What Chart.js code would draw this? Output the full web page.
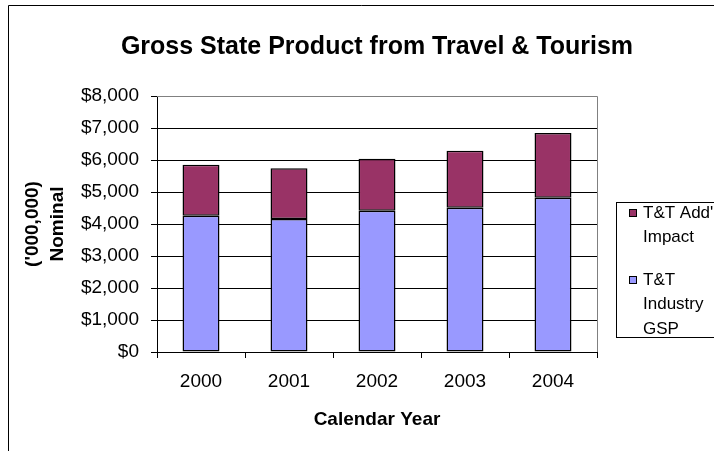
<!DOCTYPE html>
<html>
<head>
<meta charset="utf-8">
<title>Gross State Product from Travel &amp; Tourism</title>
<script src="https://cdn.jsdelivr.net/npm/chart.js@4/dist/chart.umd.min.js"></script>
<style>
  html, body { margin: 0; padding: 0; background: #ffffff; }
  #wrap { position: relative; width: 714px; height: 451px; }
</style>
</head>
<body>
<div id="wrap"><canvas id="chart"></canvas></div>
<script>
// Calendar years on the x axis
const years = ['2000', '2001', '2002', '2003', '2004'];

// Travel & Tourism industry GSP, $ millions (nominal)
const industryGsp = [4260, 4160, 4415, 4510, 4820];

// Additional (indirect/induced) impact, $ millions (nominal), stacked on top
const addlImpact = [1590, 1580, 1625, 1780, 2020];

// Series names, with the line breaks used in the legend
const industryLabel = ['T&T', 'Industry', 'GSP'];
const addlLabel = ["T&T Add'l", 'Impact'];

// Value axis range
const yMin = 0;
const yMax = 8000;
const yStep = 1000;

const chartTitle = 'Gross State Product from Travel & Tourism';
const xTitle = 'Calendar Year';
const yTitle = ["('000,000)", 'Nominal'];

const FONT = '"Liberation Sans", Arial, Helvetica, sans-serif';
const COLOR_GSP = '#9999FF';
const COLOR_ADDL = '#993366';

// Frame, title and legend painted around the plot
const decorations = {
  id: 'decorations',
  beforeDraw(chart) {
    const ctx = chart.ctx;
    ctx.save();
    ctx.fillStyle = '#ffffff';
    ctx.fillRect(0, 0, chart.width, chart.height);
    ctx.restore();
  },
  afterDraw(chart) {
    const ctx = chart.ctx;
    const a = chart.chartArea;
    ctx.save();

    // outer chart border (runs off the right and bottom edges)
    ctx.strokeStyle = '#000000';
    ctx.lineWidth = 1;
    ctx.beginPath();
    ctx.moveTo(8.5, chart.height + 2);
    ctx.lineTo(8.5, 5.5);
    ctx.lineTo(chart.width + 2, 5.5);
    ctx.stroke();

    // plot-area frame, top and right sides
    ctx.strokeStyle = '#808080';
    ctx.beginPath();
    ctx.moveTo(a.left, Math.round(a.top) + 0.5);
    ctx.lineTo(Math.round(a.right) + 0.5, Math.round(a.top) + 0.5);
    ctx.lineTo(Math.round(a.right) + 0.5, a.bottom);
    ctx.stroke();

    // title, centred over the plot area
    ctx.fillStyle = '#000000';
    ctx.font = 'bold 25px ' + FONT;
    ctx.textAlign = 'center';
    ctx.textBaseline = 'middle';
    ctx.fillText(chartTitle, (a.left + a.right) / 2, 47);

    // legend box
    const lx = 616.5, ly = 202.5;
    ctx.strokeStyle = '#000000';
    ctx.strokeRect(lx, ly, 120, 135);

    const items = [
      { lines: addlLabel, color: COLOR_ADDL, y: 213 },
      { lines: industryLabel, color: COLOR_GSP, y: 280 }
    ];
    ctx.font = '17px ' + FONT;
    ctx.textAlign = 'left';
    ctx.textBaseline = 'middle';
    items.forEach(it => {
      ctx.fillStyle = it.color;
      ctx.fillRect(629.5, it.y - 3.5, 7, 7);
      ctx.strokeStyle = '#000000';
      ctx.strokeRect(629.5, it.y - 3.5, 7, 7);
      ctx.fillStyle = '#000000';
      it.lines.forEach((t, i) => ctx.fillText(t, 643, it.y + i * 24.5));
    });

    ctx.restore();
  }
};

new Chart(document.getElementById('chart'), {
  type: 'bar',
  data: {
    labels: years,
    datasets: [
      {
        label: industryLabel.join(' '),
        data: industryGsp,
        backgroundColor: COLOR_GSP,
        borderColor: '#000000',
        borderWidth: 1.5,
        borderSkipped: false,
        inflateAmount: 0
      },
      {
        label: addlLabel.join(' '),
        data: addlImpact,
        backgroundColor: COLOR_ADDL,
        borderColor: '#000000',
        borderWidth: 1.5,
        borderSkipped: false,
        inflateAmount: 0
      }
    ]
  },
  options: {
    responsive: true,
    maintainAspectRatio: false,
    animation: false,
    layout: { padding: { left: 0, top: 96, right: 117, bottom: 0 } },
    datasets: {
      bar: { categoryPercentage: 1.0, barPercentage: 0.42 }
    },
    plugins: {
      legend: { display: false },
      title: { display: false },
      tooltip: { enabled: false }
    },
    scales: {
      x: {
        stacked: true,
        offset: true,
        afterFit(scale) { scale.height = 99; },
        grid: {
          offset: true,
          drawOnChartArea: false,
          drawTicks: true,
          tickLength: 6,
          tickColor: '#000000',
          color: '#000000'
        },
        border: { display: true, color: '#000000', width: 1 },
        ticks: {
          color: '#000000',
          padding: 12,
          maxRotation: 0,
          font: { family: FONT, size: 19 }
        },
        title: {
          display: true,
          text: xTitle,
          color: '#000000',
          font: { family: FONT, size: 19, weight: 'bold', lineHeight: 1.2 },
          padding: { top: 0, bottom: 20 }
        }
      },
      y: {
        stacked: true,
        min: yMin,
        max: yMax,
        afterFit(scale) { scale.width = 157; },
        grid: {
          drawTicks: true,
          tickLength: 6,
          tickColor: '#000000',
          color: ctx => (ctx.tick && ctx.tick.value === yMax ? '#808080' : '#000000'),
          lineWidth: 1
        },
        border: { display: true, color: '#000000', width: 1 },
        ticks: {
          stepSize: yStep,
          color: '#000000',
          padding: 12,
          font: { family: FONT, size: 19 },
          callback: v => '$' + Number(v).toLocaleString('en-US')
        },
        title: {
          display: true,
          text: yTitle,
          color: '#000000',
          font: { family: FONT, size: 19, weight: 'bold', lineHeight: 1.316 },
          padding: { top: 20, bottom: 0 }
        }
      }
    }
  },
  plugins: [decorations]
});
</script>
</body>
</html>
